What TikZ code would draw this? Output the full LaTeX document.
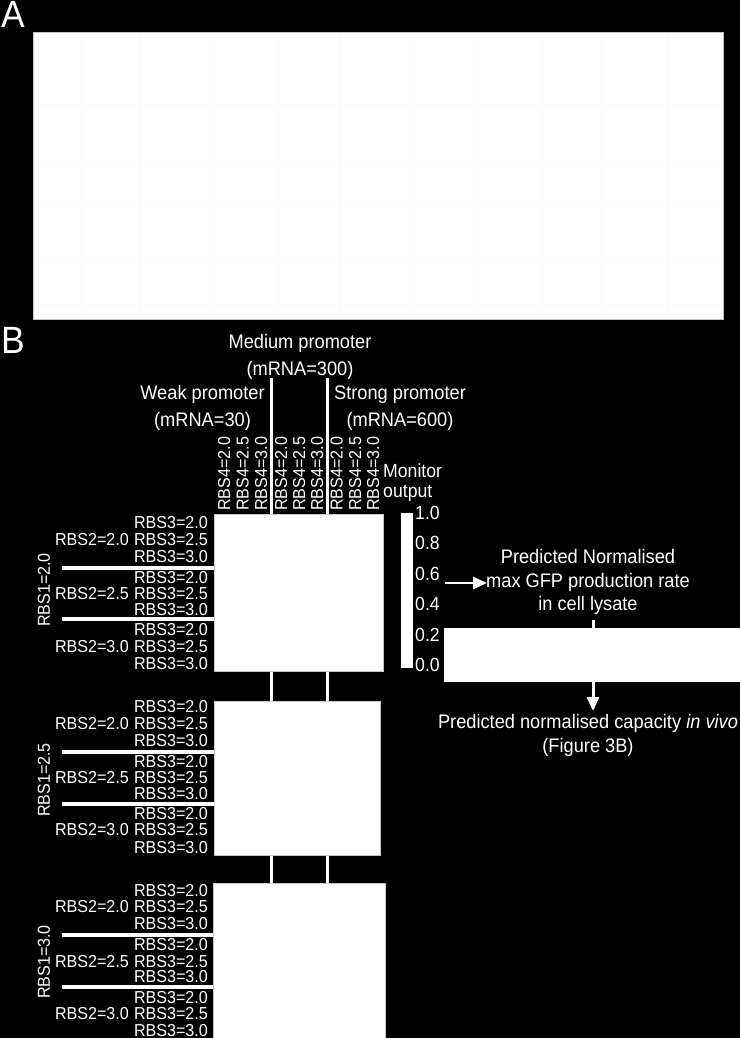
\documentclass[tikz,border=0pt]{standalone}
\usepackage{fontspec}
\setmainfont[FakeStretch=0.93]{Liberation Sans}
\usetikzlibrary{arrows.meta}
\begin{document}
\begin{tikzpicture}[x=1pt,y=-1pt,
  lab/.style={text=white,inner sep=0pt,font=\fontsize{17.3}{17.3}\selectfont},
  mid/.style={text=white,inner sep=0pt,font=\fontsize{19}{19}\selectfont},
  big/.style={text=white,inner sep=0pt,font=\fontsize{19.6}{19.6}\selectfont},
  panel/.style={text=white,inner sep=0pt,font=\fontsize{38}{38}\selectfont},
  whitebox/.style={fill=white,draw=black!22,line width=0.6pt,inner sep=0pt,anchor=north west},
  vline/.style={white,line width=3pt},
  sepline/.style={white,line width=4pt},
  arr/.style={white,line width=2.6pt,-{Triangle[length=14pt,width=12pt]}}]
\fill[black] (0,0) rectangle (740,1038);
\useasboundingbox (0,0) rectangle (740,1038);

% ---------- Panel A ----------
\node[panel,anchor=base west] (labA) at (1,28) {A};
\node[whitebox,minimum width=690pt,minimum height=287pt] (plotA) at (33,32) {};
\foreach \yy in {104,162,204,262,304}
  \draw[black!1.5,line width=0.6pt] (34,\yy) -- (722,\yy);
\foreach \xx in {81,140,210,278,340,413,474,542,601,667}
  \draw[black!1.5,line width=0.6pt] (\xx,33) -- (\xx,318);

% ---------- Panel B ----------
\node[panel,anchor=base west] (labB) at (1,353) {B};

\node[big,anchor=base] (medT) at (300,348) {Medium promoter};
\node[big,anchor=base] (medM) at (300,375) {(mRNA=300)};
\node[big,anchor=base] (weakT) at (202.5,399) {Weak promoter};
\node[big,anchor=base] (weakM) at (202.5,426) {(mRNA=30)};
\node[big,anchor=base] (strT) at (400,399) {Strong promoter};
\node[big,anchor=base] (strM) at (400,426) {(mRNA=600)};

\coordinate (v1) at (271,378);
\coordinate (v2) at (327,378);

% RBS4 column labels
\foreach \xc/\val [count=\c] in {224/2.0,242.5/2.5,261/3.0,281/2.0,299/2.5,317/3.0,336.5/2.0,355/2.5,373/3.0}
  \node[lab,rotate=90,anchor=base west] (r4-\c) at (\xc+6,511) {RBS4=\val};

\node[mid,anchor=base west] (monA) at (383,477) {Monitor};
\node[mid,anchor=base west] (monB) at (383,497) {output};

% blocks
\node[whitebox,minimum width=169pt,minimum height=157pt] (blk1) at (214,514) {};
\node[whitebox,minimum width=166pt,minimum height=154pt] (blk2) at (214,701) {};
\node[whitebox,minimum width=172pt,minimum height=156pt] (blk3) at (213,883) {};

% vertical promoter separators (drawn between blocks)
\draw[vline] (v1) -- (v1 |- blk1.north);
\draw[vline] (v2) -- (v2 |- blk1.north);
\draw[vline] (v1 |- blk1.south) -- (v1 |- blk2.north);
\draw[vline] (v2 |- blk1.south) -- (v2 |- blk2.north);
\draw[vline] (v1 |- blk2.south) -- (v1 |- blk3.north);
\draw[vline] (v2 |- blk2.south) -- (v2 |- blk3.north);

% row labels: block / 9 row centres / 2 separator positions / RBS1 centre / RBS1 value
\foreach \k/\ra/\rb/\rc/\rd/\re/\rf/\rg/\rh/\ri/\sa/\sb/\m/\v in {
   1/522/539/556.3/577/593/609/629/646/663/567.7/619/590/2.0,
   2/706.5/723/740/761/777.5/793/813.5/829.5/847.5/752/803.7/780/2.5,
   3/890/906.5/923.7/944/961/976.3/997/1013/1030/935/986.7/962/3.0} {
  \foreach \yc/\val [count=\i] in {\ra/2.0,\rb/2.5,\rc/3.0,\rd/2.0,\re/2.5,\rf/3.0,\rg/2.0,\rh/2.5,\ri/3.0}
    \node[lab,anchor=base east] (r3-\k-\i) at (208,\yc+6) {RBS3=\val};
  \foreach \yc/\val [count=\i] in {\rb/2.0,\re/2.5,\rh/3.0}
    \node[lab,anchor=base east] (r2-\k-\i) at (129,\yc+6) {RBS2=\val};
  \foreach \yc [count=\j] in {\sa,\sb} {
    \coordinate (s-\k-\j) at (62,\yc);
    \draw[sepline] (s-\k-\j) -- (s-\k-\j -| blk\k.west);
  }
  \node[lab,rotate=90,anchor=center] (r1-\k) at (44,\m) {RBS1=\v};
}

% colour bar
\node[fill=white,inner sep=0pt,minimum width=12pt,minimum height=155pt,anchor=north west] (cbar) at (401,513) {};
\foreach \i/\val in {0/1.0,1/0.8,2/0.6,3/0.4,4/0.2,5/0.0}
  \node[mid,anchor=west] (tk\i) at (415,513+30.4*\i) {\val};

% right-hand flow
\node[big,anchor=base] (pn1) at (588,563) {Predicted Normalised};
\node[big,anchor=base] (pn2) at (588,587) {max GFP production rate};
\node[big,anchor=base] (pn3) at (588,610) {in cell lysate};
\coordinate (a1) at (445,583);
\coordinate (a1e) at (487,583);
\draw[arr] (a1) -- (a1e);

\node[fill=white,inner sep=0pt,minimum width=300pt,minimum height=54pt,anchor=north west] (vivo) at (444,628) {};
\coordinate (c1) at (593,620);
\draw[white,line width=3pt] (c1) -- (c1 |- vivo.north);
\coordinate (c2) at (593,711);
\draw[arr,line width=3pt] (c1 |- vivo.south) -- (c2);

\node[big,anchor=base] (pc1) at (588,728) {Predicted normalised capacity \textit{in vivo}};
\node[big,anchor=base] (pc2) at (588,752) {(Figure 3B)};
\end{tikzpicture}
\end{document}
